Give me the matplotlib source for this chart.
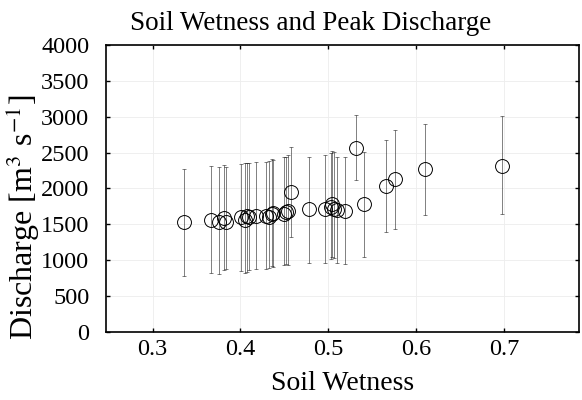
import matplotlib
matplotlib.use("Agg")
import matplotlib.pyplot as plt
import numpy as np

# Data
wetness = [0.336, 0.367, 0.376, 0.381, 0.383, 0.401, 0.405, 0.407, 0.410, 0.418,
           0.429, 0.432, 0.4355, 0.4374, 0.4495, 0.4518, 0.4545, 0.457, 0.478, 0.496,
           0.5027, 0.5045, 0.506, 0.5096, 0.519, 0.5316, 0.541, 0.5654, 0.5756, 0.6094,
           0.6975]
discharge = [1530, 1560, 1540, 1590, 1530, 1600, 1560, 1610, 1600, 1610,
             1620, 1600, 1650, 1660, 1650, 1670, 1680, 1950, 1710, 1710,
             1740, 1780, 1720, 1700, 1687, 2560, 1784, 2040, 2129, 2268,
             2320]
bar_low = [785, 818, 808, 860, 878, 855, 827, 840, 864, 874,
           874, 896, 920, 910, 934, 943, 940, 1320, 957, 966,
           1013, 1050, 1030, 957, 948, 2119, 1050, 1394, 1440, 1626,
           1640]
bar_high = [2270, 2318, 2304, 2328, 2300, 2342, 2360, 2350, 2360, 2365,
            2374, 2384, 2407, 2400, 2435, 2440, 2467, 2580, 2444, 2467,
            2500, 2523, 2510, 2444, 2435, 3025, 2514, 2677, 2816, 2900,
            3015]
x_ticks = [0.3, 0.4, 0.5, 0.6, 0.7]
y_ticks = [0, 500, 1000, 1500, 2000, 2500, 3000, 3500, 4000]

plt.rcParams['font.family'] = ['Liberation Serif', 'DejaVu Serif']
plt.rcParams['mathtext.fontset'] = 'stix'

fig = plt.figure(figsize=(5.82, 4.0), dpi=100)
ax = fig.add_axes([0.182, 0.17, 0.813, 0.7175])

x = np.array(wetness)
y = np.array(discharge)
lo = y - np.array(bar_low)
hi = np.array(bar_high) - y

ax.errorbar(x, y, yerr=[lo, hi], fmt='none', ecolor='black', elinewidth=0.7,
            capsize=1.5, capthick=0.7, alpha=0.5, zorder=2)
ax.plot(x, y, 'o', markersize=10, markerfacecolor='none', markeredgecolor='black',
        markeredgewidth=0.7, zorder=3)

ax.set_xlim(0.247, 0.785)
ax.set_ylim(0, 4000)
ax.set_xticks(x_ticks)
ax.set_yticks(y_ticks)
ax.set_xticklabels([f"{v:.1f}" for v in x_ticks])
ax.set_yticklabels([str(v) for v in y_ticks])
ax.grid(True, color='#ededed', linewidth=0.6)
ax.set_axisbelow(True)

ax.tick_params(direction='in', length=3, width=1, top=True, right=True,
               labelsize=17.5)
ax.tick_params(axis='x', pad=5)
ax.tick_params(axis='y', pad=12)
for s in ax.spines.values():
    s.set_linewidth(1.2)

ax.set_title('Soil Wetness and Peak Discharge', fontsize=19.5, pad=11, x=0.433)
ax.set_xlabel('Soil Wetness', fontsize=20, labelpad=8)
ax.set_ylabel('Discharge [m$^{3}$ s$^{-1}$]', fontsize=23)
ax.yaxis.set_label_coords(-0.136, 0.40)

fig.savefig('out.png', dpi=100)
